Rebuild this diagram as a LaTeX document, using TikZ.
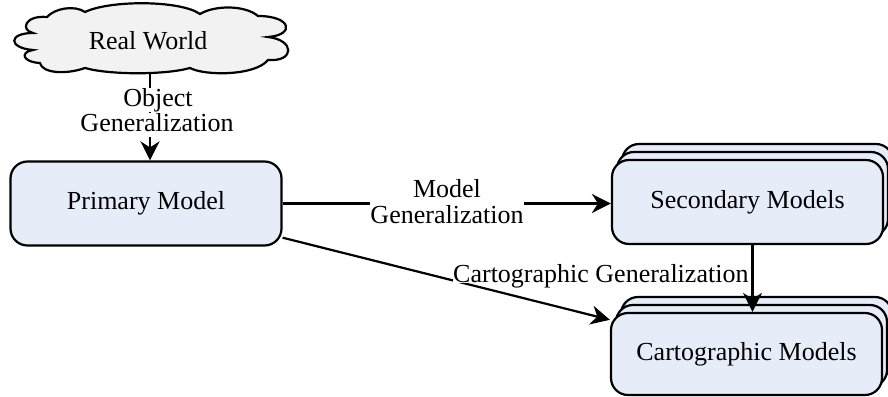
\documentclass[tikz,border=0pt]{standalone}
\usepackage{fontspec}
\setmainfont{Liberation Serif}
\usetikzlibrary{arrows.meta}
\definecolor{boxfill}{RGB}{230,236,248}
\definecolor{cloudfill}{RGB}{242,242,242}
\tikzset{
  box/.style={draw=black, line width=2.2pt, fill=boxfill, rounded corners=17pt,
    minimum width=271pt, minimum height=84pt, inner sep=0pt,
    text height=17.7pt, text depth=5.7pt, font=\fontsize{26}{26}\selectfont},
  arr/.style={draw=black, line width=2.2pt, -{Stealth[length=19pt,width=19pt,inset=6pt]}},
  lbl/.style={fill=white, inner sep=0pt, text height=18.2pt, text depth=5.7pt,
    font=\fontsize{26}{26}\selectfont, anchor=base},
  cloudline/.style={draw=black, line width=2.2pt, fill=cloudfill},
}
\begin{document}
\begin{tikzpicture}[x=1pt,y=-1pt]
\useasboundingbox (0,0) rectangle (888,396);
\clip (0,0) rectangle (888,396);

% cloud outline
\path[cloudline] (47,17)
  .. controls (55,8) and (75,5) .. (85,12)
  .. controls (110,0) and (180,0) .. (200,14)
  .. controls (215,5) and (245,5) .. (258,16)
  .. controls (292,16) and (295,35) .. (268,37)
  .. controls (295,40) and (295,62) .. (268,60)
  .. controls (255,76) and (205,76) .. (190,68)
  .. controls (165,75) and (110,75) .. (85,68)
  .. controls (65,75) and (42,73) .. (40,63)
  .. controls (22,62) and (20,52) .. (33,50)
  .. controls (8,48) and (8,33) .. (33,33)
  .. controls (20,30) and (25,15) .. (47,17) -- cycle;
\node[font=\fontsize{26}{26}\selectfont, anchor=base, inner sep=0pt] (real) at (148,50) {Real World};
\coordinate (cloudtip) at (150,73);

% models
\node[box] (primary) at (146,203.5) {Primary Model};

\node[box] (sec3) at (757.5,186) {};
\node[box] (sec2) at (752.5,194) {};
\node[box] (secondary) at (747.5,202) {Secondary Models};

\node[box, minimum height=82pt] (cart3) at (756.5,338) {};
\node[box, minimum height=82pt] (cart2) at (751.5,346) {};
\node[box, minimum height=82pt] (cartographic) at (746.5,354) {Cartographic Models};

% connectors
\draw[arr] (cloudtip) -- (cloudtip |- primary.north);
\draw[arr] (primary.east) -- (primary.east -| secondary.west);
\draw[arr] (primary) -- (cartographic);
\coordinate (vtop) at ([xshift=5pt]secondary.south);
\draw[arr] (vtop) -- (vtop |- cartographic.north);

% connector labels
\node[lbl] (objA) at (158,106) {Object};
\node[lbl] (objB) at (157,131) {Generalization};
\node[lbl] (modA) at (447,197) {Model};
\node[lbl, text height=23.5pt] (modB) at (447,223) {Generalization};
\node[lbl, anchor=base west, text depth=1pt] (cartlbl) at (453,282) {Cartographic Generalization};
\end{tikzpicture}
\end{document}
